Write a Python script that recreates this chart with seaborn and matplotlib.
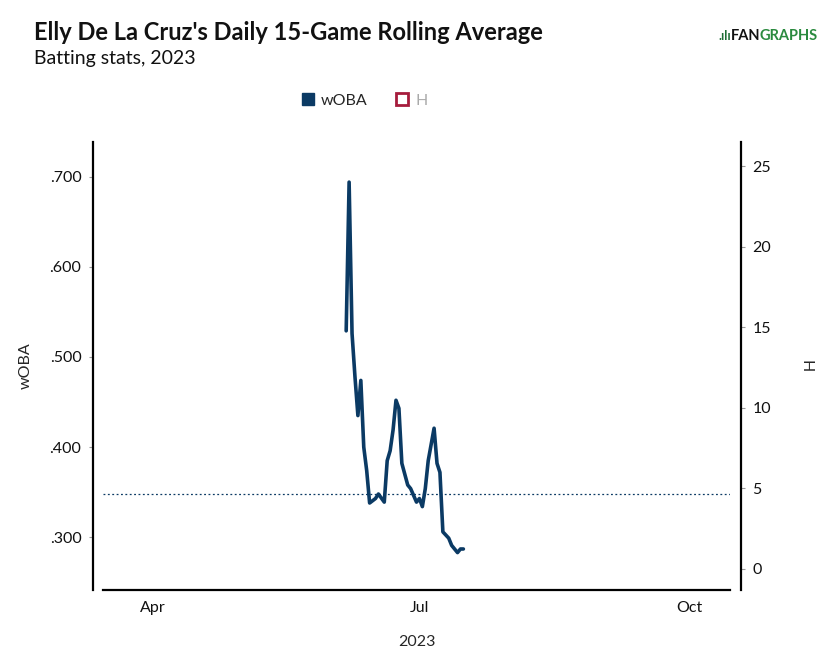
import pandas as pd
import matplotlib
matplotlib.use('Agg')
import matplotlib.pyplot as plt
import matplotlib.dates as mdates
from matplotlib.lines import Line2D
import seaborn as sns

# daily 15-game rolling wOBA
dates = ['2023-06-06', '2023-06-07', '2023-06-08', '2023-06-09', '2023-06-10',
         '2023-06-11', '2023-06-12', '2023-06-13', '2023-06-14', '2023-06-16',
         '2023-06-17', '2023-06-19', '2023-06-20', '2023-06-21', '2023-06-22',
         '2023-06-23', '2023-06-24', '2023-06-25', '2023-06-27', '2023-06-28',
         '2023-06-30', '2023-07-01', '2023-07-02', '2023-07-03', '2023-07-04',
         '2023-07-06', '2023-07-07', '2023-07-08', '2023-07-09', '2023-07-11',
         '2023-07-12', '2023-07-14', '2023-07-15', '2023-07-16']
woba = [.529, .694, .526, .478, .435, .474, .400, .374, .338, .343,
        .348, .339, .385, .396, .419, .452, .443, .382, .358, .354,
        .339, .343, .334, .354, .385, .421, .382, .372, .306, .299,
        .291, .283, .287, .287]
league_woba = .3477
h_ticks = [0, 5, 10, 15, 20, 25]

df = pd.DataFrame({'date': pd.to_datetime(dates), 'wOBA': woba})

navy = '#0b3a64'
crimson = '#a61c3c'

sns.set_theme(style='white')
plt.rcParams['font.family'] = ['Lato', 'DejaVu Sans']

fig = plt.figure(figsize=(8.39, 6.52), dpi=100)
ax = fig.add_axes([103 / 839, 62 / 652, 627 / 839, 448 / 652])

sns.lineplot(data=df, x='date', y='wOBA', color=navy, linewidth=2.6, ax=ax)
ax.axhline(league_woba, color=navy, linestyle=(0, (1.5, 2)), linewidth=0.9)

ax.set_xlim(pd.Timestamp('2023-03-15'), pd.Timestamp('2023-10-15'))
ax.set_ylim(.2415, .7385)
ax.set_yticks([.3, .4, .5, .6, .7])
ax.set_yticklabels(['.300', '.400', '.500', '.600', '.700'])
ax.xaxis.set_major_locator(mdates.MonthLocator(bymonth=[4, 7, 10]))
ax.xaxis.set_major_formatter(mdates.DateFormatter('%b'))

ax.set_xlabel('2023', fontsize=11.5, labelpad=14)
ax.set_ylabel('wOBA', fontsize=11.5, labelpad=12)

ax2 = ax.twinx()
ax2.set_ylim(-1.32, 26.5)
ax2.set_yticks(h_ticks)
ax2.set_ylabel('H', fontsize=11.5, rotation=270, labelpad=30)

for a in (ax, ax2):
    for s in a.spines.values():
        s.set_visible(False)
    a.tick_params(axis='both', length=3, width=0.8, color='#999999',
                  labelsize=11.5, labelcolor='#111111', pad=5)
ax.spines['left'].set_visible(True)
ax.spines['left'].set_position(('outward', 7.5))
ax.spines['left'].set_linewidth(1.6)
ax.spines['left'].set_color('black')
ax.spines['bottom'].set_visible(True)
ax.spines['bottom'].set_linewidth(1.6)
ax.spines['bottom'].set_color('black')
ax2.spines['right'].set_visible(True)
ax2.spines['right'].set_position(('outward', 8))
ax2.spines['right'].set_linewidth(1.6)
ax2.spines['right'].set_color('black')

# title block
fig.text(34 / 839, 1 - 40 / 652, "Elly De La Cruz's Daily 15-Game Rolling Average",
         fontsize=17, fontweight='bold', color='#111111')
fig.text(34 / 839, 1 - 64 / 652, 'Batting stats, 2023', fontsize=14, color='#111111')

# logo
fig.text(731 / 839, 1 - 40 / 652, '.ılı', fontsize=9, fontweight='bold',
         color='#1f6f35', ha='right')
fig.text(760 / 839, 1 - 40 / 652, 'FAN', fontsize=10.5, fontweight='bold',
         color='#111111', ha='right')
fig.text(760 / 839, 1 - 40 / 652, 'GRAPHS', fontsize=10.5, fontweight='bold',
         color='#2a8a3e', ha='left')

handles = [Line2D([], [], marker='s', linestyle='none', markersize=9,
                  markerfacecolor=navy, markeredgecolor=navy),
           Line2D([], [], marker='s', linestyle='none', markersize=8,
                  markerfacecolor='white', markeredgecolor=crimson, markeredgewidth=2)]
leg = fig.legend(handles, ['wOBA', 'H'], loc='center', ncol=2, frameon=False,
                 bbox_to_anchor=(362 / 839, 1 - 101 / 652), fontsize=11.5,
                 handletextpad=0.1, columnspacing=1.5, handlelength=1.4)
leg.get_texts()[1].set_color('#aaaaaa')

fig.savefig('out.png', dpi=100)
